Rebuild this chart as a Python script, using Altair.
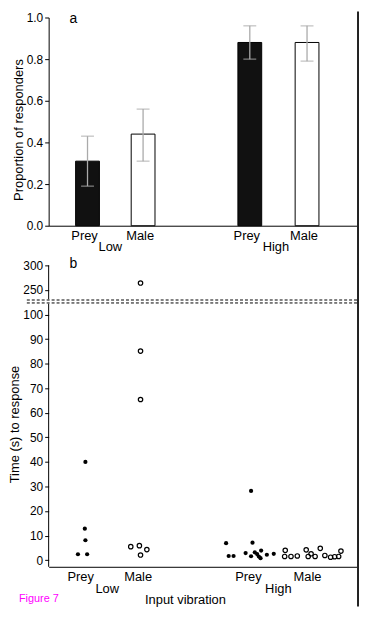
import altair as alt
import pandas as pd

FONT = "Liberation Sans"

# ---------------- Panel a : proportion of responders ----------------
bar_pos = [1.0, 2.0, 3.92, 4.95]
bar_stim = ["Prey", "Male", "Prey", "Male"]
bar_prop = [0.31, 0.44, 0.88, 0.88]
bar_lo = [0.19, 0.31, 0.80, 0.79]
bar_hi = [0.43, 0.56, 0.96, 0.96]

# ---------------- Panel b : time (s) to response ----------------
low_prey_x = [1.03, 1.02, 1.03, 0.90, 1.06]
low_prey_t = [40.0, 12.8, 8.1, 2.4, 2.4]
low_male_x = [1.82, 1.97, 2.10, 1.99, 1.99, 1.99, 1.99]
low_male_t = [5.5, 5.9, 4.3, 2.1, 65.4, 85.1, 264.0]
high_prey_x = [3.48, 3.525, 3.61, 3.915, 3.82, 3.94, 3.915, 3.98, 4.02, 4.05, 4.08, 4.09, 4.19, 4.31]
high_prey_t = [6.9, 1.7, 1.7, 28.2, 2.9, 7.1, 1.6, 3.2, 2.5, 1.5, 0.8, 3.9, 2.2, 2.6]
high_male_x = [4.51, 4.50, 4.61, 4.72, 4.875, 4.91, 4.96, 5.03, 5.12, 5.20, 5.30, 5.37, 5.44, 5.48]
high_male_t = [4.0, 1.5, 1.5, 1.7, 4.2, 1.5, 2.6, 1.5, 4.8, 1.9, 1.2, 1.4, 1.5, 3.7]

# category labels
cat_pos = [1.0, 2.0, 3.92, 4.95]
cat_text = ["Prey", "Male", "Prey", "Male"]
grp_pos = [1.41, 4.39]
grp_text = ["Low", "High"]

# axis break (values above 100 are compressed: 250 -> 110, 300 -> 120)
break_lines = [104.7, 105.9]
axis_seg_lo = [-2.7, 106.2]
axis_seg_hi = [104.4, 120.0]
y_ticks = [0, 10, 20, 30, 40, 50, 60, 70, 80, 90, 100, 110, 120]


def brk(v):
    return v if v <= 100 else 110 + (v - 250) / 5.0


W = 311
H1 = 210
H2 = 304

xscale = alt.Scale(domain=[0.39, 5.76], nice=False, zero=False)
x_axis = alt.Axis(ticks=False, labels=False, grid=False, title=None, domainColor="black")


def X():
    return alt.X("pos:Q", scale=xscale, axis=x_axis)


# ---------- top panel ----------
bars_df = pd.DataFrame(dict(pos=bar_pos, stim=bar_stim, prop=bar_prop, lo=bar_lo, hi=bar_hi))
ya_scale = alt.Scale(domain=[0, 1], nice=False)
ya_axis = alt.Axis(values=[0, 0.2, 0.4, 0.6, 0.8, 1.0], format=".1f",
                   title="Proportion of responders", grid=False, titleY=H1 / 2 + 8)


def YA(field):
    return alt.Y(field, scale=ya_scale, axis=ya_axis)


base_a = alt.Chart(bars_df)
bars = base_a.mark_bar(size=24, stroke="black", strokeWidth=1).encode(
    x=X(),
    y=YA("prop:Q"),
    fill=alt.Fill("stim:N", scale=alt.Scale(domain=["Prey", "Male"], range=["#111111", "#ffffff"]),
                  legend=None),
)
err = base_a.mark_rule(color="#aaaaaa", strokeWidth=1.3).encode(x=X(), y=YA("lo:Q"), y2="hi:Q")
cap_lo = base_a.mark_tick(orient="horizontal", size=13, thickness=1.3, color="#aaaaaa").encode(
    x=X(), y=YA("lo:Q"))
cap_hi = base_a.mark_tick(orient="horizontal", size=13, thickness=1.3, color="#aaaaaa").encode(
    x=X(), y=YA("hi:Q"))

cat_df = pd.DataFrame(dict(pos=cat_pos, lab=cat_text))
grp_df = pd.DataFrame(dict(pos=grp_pos, lab=grp_text))


def cat_labels(h):
    return alt.Chart(cat_df).mark_text(fontSize=13, font=FONT, baseline="middle", dx=-3,
                                       color="black").encode(
        x=X(), y=alt.value(h + 10), text="lab:N")


def grp_labels(h):
    return alt.Chart(grp_df).mark_text(fontSize=13, font=FONT, baseline="middle",
                                       color="black").encode(
        x=X(), y=alt.value(h + 22), text="lab:N")


one = pd.DataFrame({"k": [0]})
label_a = alt.Chart(one).mark_text(text="a", fontSize=14, font=FONT, baseline="middle",
                                   color="black").encode(x=alt.value(25), y=alt.value(2))
frame_a = alt.Chart(one).mark_rule(color="#222222", strokeWidth=2).encode(
    x=alt.value(W + 1), y=alt.value(-6), y2=alt.value(H1 + 40))

top = alt.layer(bars, err, cap_lo, cap_hi, cat_labels(H1), grp_labels(H1), label_a, frame_a).properties(
    width=W, height=H1)

# ---------- bottom panel ----------
rows = []
for xs, ts, stim in [(low_prey_x, low_prey_t, "Prey"), (low_male_x, low_male_t, "Male"),
                     (high_prey_x, high_prey_t, "Prey"), (high_male_x, high_male_t, "Male")]:
    for xv, tv in zip(xs, ts):
        rows.append(dict(pos=xv, t=tv, ty=brk(tv), stim=stim))
pts_df = pd.DataFrame(rows)

yb_scale = alt.Scale(domain=[-2.7, 120], nice=False, zero=False)
yb_axis = alt.Axis(values=y_ticks, grid=False, domain=False, title="Time (s) to response",
                   titleY=H2 / 2 + 8,
                   labelExpr="datum.value == 110 ? '250' : datum.value == 120 ? '300' : datum.label")


def YB(field):
    return alt.Y(field, scale=yb_scale, axis=yb_axis)


filled = alt.Chart(pts_df).transform_filter(alt.datum.stim == "Prey").mark_circle(
    size=18, color="black", opacity=1).encode(x=X(), y=YB("ty:Q"))
hollow = alt.Chart(pts_df).transform_filter(alt.datum.stim == "Male").mark_point(
    shape="circle", size=20, color="black", strokeWidth=1.2, filled=False, opacity=1).encode(
    x=X(), y=YB("ty:Q"))

seg_df = pd.DataFrame(dict(y0=axis_seg_lo, y1=axis_seg_hi))
yaxis_line = alt.Chart(seg_df).mark_rule(color="black", strokeWidth=1).encode(
    x=alt.value(0), y=YB("y0:Q"), y2="y1:Q")

brk_df = pd.DataFrame(dict(by=break_lines))
dashes = alt.Chart(brk_df).mark_rule(color="black", strokeWidth=1, strokeDash=[3, 2]).encode(
    x=alt.value(-22), x2=alt.value(W), y=YB("by:Q"))

label_b = alt.Chart(one).mark_text(text="b", fontSize=14, font=FONT, baseline="middle",
                                   color="black").encode(x=alt.value(25), y=alt.value(-1))
xtitle = alt.Chart(one).mark_text(text="Input vibration", fontSize=13, font=FONT, baseline="middle",
                                  color="black").encode(x=alt.value(138), y=alt.value(H2 + 34))
fig = alt.Chart(one).mark_text(text="Figure 7", fontSize=11, font=FONT, baseline="middle",
                               align="left", color="#ff00ff").encode(
    x=alt.value(-30), y=alt.value(H2 + 32))
frame_b = alt.Chart(one).mark_rule(color="#222222", strokeWidth=2).encode(
    x=alt.value(W + 1), y=alt.value(-2), y2=alt.value(H2 + 40))

bottom = alt.layer(yaxis_line, dashes, filled, hollow, cat_labels(H2), grp_labels(H2),
                   label_b, xtitle, fig, frame_b).properties(width=W, height=H2)

chart = alt.vconcat(top, bottom, spacing=40, bounds="flush").properties(
    padding={"left": 0, "top": 0, "right": 0, "bottom": 0}
).configure_view(stroke=None).configure_axis(
    labelFont=FONT, labelFontSize=12, labelColor="black",
    titleFont=FONT, titleFontSize=13, titleFontWeight="normal", titleColor="black",
    tickColor="black", domainColor="black", tickSize=4, labelPadding=2, titlePadding=1,
)

chart.save("out.html", embed_options={"renderer": "svg", "actions": False})
